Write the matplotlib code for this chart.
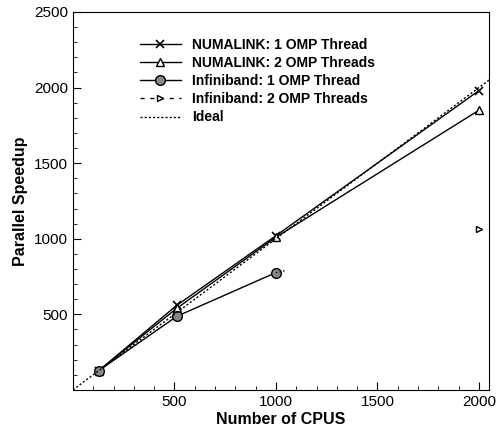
import matplotlib
matplotlib.use("Agg")
import matplotlib.pyplot as plt
from matplotlib.ticker import MultipleLocator

plt.rcParams['font.family'] = ['Liberation Sans', 'DejaVu Sans']

# data
cpus = [128, 512, 1000, 2000]
numa1 = [128, 560, 1020, 1980]
numa2 = [128, 540, 1010, 1850]
ib1_cpus = [128, 512, 1000]
ib1 = [128, 487, 776]
ib1_tail_cpus = [1000, 1050]
ib1_tail = [776, 790]
ib2_cpus = [2000]
ib2 = [1065]
ideal = [0, 2050]

fig = plt.figure(figsize=(4.96, 4.28), dpi=100)
ax = fig.add_axes([0.147, 0.089, 0.839, 0.883])

ax.plot(cpus, numa1, color='black', lw=1.0, marker='x', ms=6, mew=1.2,
        label='NUMALINK: 1 OMP Thread')
ax.plot(cpus, numa2, color='black', lw=1.0, marker='^', ms=6, mfc='white',
        label='NUMALINK: 2 OMP Threads')
ax.plot(ib1_cpus, ib1, color='black', lw=1.0, marker='o', ms=7, mfc='#888888',
        label='Infiniband: 1 OMP Thread')
ax.plot(ib1_tail_cpus, ib1_tail, color='black', lw=1.0, ls=':')
ax.plot(ib2_cpus, ib2, color='black', lw=1.0, ls=(0, (3, 4)), marker='>', ms=5,
        mfc='white', label='Infiniband: 2 OMP Threads')
ax.plot(ideal, ideal, color='black', lw=1.0, ls=(0, (1.5, 1.5)), label='Ideal')

ax.set_xlim(0, 2050)
ax.set_ylim(0, 2500)
ax.xaxis.set_minor_locator(MultipleLocator(100))
ax.yaxis.set_minor_locator(MultipleLocator(100))
ax.set_xticks([500, 1000, 1500, 2000])
ax.set_yticks([500, 1000, 1500, 2000, 2500])
ax.tick_params(which='both', direction='in', labelsize=11)
ax.tick_params(which='major', length=6)
ax.tick_params(which='minor', length=3)

ax.set_xlabel('Number of CPUS', fontsize=11.5, fontweight='bold', labelpad=2)
ax.set_ylabel('Parallel Speedup', fontsize=11.5, fontweight='bold', labelpad=4)

leg = ax.legend(loc='upper left', bbox_to_anchor=(0.13, 0.965), frameon=False,
                handlelength=3.0, labelspacing=0.3, handletextpad=0.8,
                prop={'weight': 'bold', 'size': 10})

fig.savefig('out.png', dpi=100)
